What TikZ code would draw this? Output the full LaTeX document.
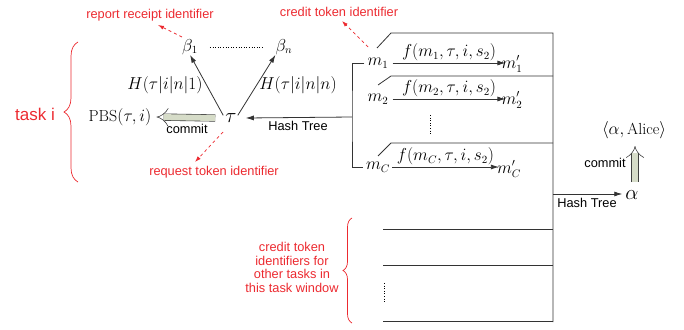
\documentclass[tikz,border=0pt]{standalone}
\usepackage{fontspec}
\setsansfont{Liberation Sans}
\usetikzlibrary{arrows.meta,decorations.pathreplacing}
\definecolor{redc}{RGB}{236,42,48}
\definecolor{commitfill}{RGB}{214,220,200}
\begin{document}
\begin{tikzpicture}[x=1pt,y=-1pt,
 mth/.style={font=\fontsize{16}{19}\selectfont, inner sep=0pt},
 lab/.style={font=\sffamily\fontsize{12.8}{13.6}\selectfont, inner sep=0pt},
 rlab/.style={lab, text=redc},
 ln/.style={draw=black!80, line width=0.8pt},
 arr/.style={ln, -{Latex[length=8pt,width=5pt]}},
 rarr/.style={draw=redc, dashed, line width=0.7pt, -{Latex[length=6pt,width=4pt]}},
 commitarr/.style={draw=black!75, line width=0.6pt, double=commitfill, double distance=6pt, -{Implies}},
 rbrace/.style={draw=redc, line width=0.7pt, decorate}
]
\useasboundingbox (0,0) rectangle (684,329);

% left part
\node[mth] (b1) at (190,47) {$\beta_1$};
\node[mth] (bn) at (284,47) {$\beta_n$};
\node[mth, font=\fontsize{22}{26}\selectfont] (tau) at (231,118) {$\tau$};
\node[mth] (pbs) at (120,117) {$\mathrm{PBS}(\tau,i)$};
\node[mth] (h1) at (165,85) {$H(\tau|i|n|1)$};
\node[mth] (hn) at (298,85) {$H(\tau|i|n|n)$};

\draw[arr] ([xshift=-2pt,yshift=-2pt]tau.north west) -- (b1.south);
\draw[arr] ([xshift=1pt,yshift=-2pt]tau.north east) -- (bn.south west);
\draw[dotted, line width=0.6pt] ([xshift=12pt]b1.east) -- ([xshift=-12pt]bn.west);

\draw[commitarr] ([xshift=-10pt]tau.west) -- ([xshift=5pt]pbs.east);
\node[lab] (c1) at (187,129) {commit};

% hash tree bracket
\coordinate (ht) at (352,117);
\node[mth] (m1) at (378,63) {$m_1$};
\node[mth] (m2) at (378,99) {$m_2$};
\node[mth] (mC) at (378,167) {$m_C$};
\node[mth] (m1p) at (512,64) {$m_1'$};
\node[mth] (m2p) at (512,100) {$m_2'$};
\node[mth] (mCp) at (509,169) {$m_C'$};

\draw[arr] (ht) -- ([xshift=9pt]tau.east);
\node[lab] (ht1) at (298,126) {Hash Tree};
\draw[ln] ([xshift=-3pt]m1.west) -| (ht) |- ([xshift=-3pt]mC.west);

\draw[arr] ([xshift=4pt]m1.east) -- ([xshift=4pt]m1.east -| m1p.west)
  node[mth, midway, above=1.5pt] (f1) {$f(m_1,\tau,i,s_2)$};
\draw[arr] ([xshift=4pt]m2.east) -- ([xshift=4pt]m2.east -| m2p.west)
  node[mth, midway, above=1.5pt] (f2) {$f(m_2,\tau,i,s_2)$};
\draw[arr] ([xshift=2pt]mC.east) -- ([xshift=2pt]mC.east -| mCp.west)
  node[mth, midway, above=1.5pt] (fC) {$f(m_C,\tau,i,s_2)$};
\draw[dotted, line width=0.6pt] (430,115) -- (430,135);

% boxes of the tree
\draw[ln] (377,48) -- (391,33) -- (553,33) -- (553,322);
\draw[ln] (378,85) -- (391,76) -- (553,76);
\draw[ln] (378,156) -- (391,143) -- (553,143);
\draw[ln] (383,229) -- (553,229);
\draw[ln] (383,265) -- (553,265);
\draw[ln] (383,321) -- (553,321);
\draw[dotted, line width=0.6pt] (384,283) -- (384,303);

% right part
\node[mth, font=\fontsize{20}{24}\selectfont] (alpha) at (632,195) {$\alpha$};
\node[mth] (alice) at (634,130) {$\langle\alpha,\mathrm{Alice}\rangle$};
\coordinate (hs) at (553,194);
\draw[arr] (hs) -- ([xshift=-3pt]alpha.west |- hs);
\node[lab] (ht2) at (587,203) {Hash Tree};
\draw[commitarr] (635,182) -- (635,146);
\node[lab] (c2) at (605,163) {commit};

% red annotations
\node[rlab] (rr) at (150,15) {report receipt identifier};
\draw[rarr] (182,37) -- (158,25);
\node[rlab] (rt) at (214,172) {request token identifier};
\draw[rarr] (223,132) -- (195,162);
\node[rlab] (ct) at (339,12) {credit token identifier};
\draw[rarr] (368,47) -- (342,21);

\draw[rbrace, decoration={brace, amplitude=14pt}] (78,182) -- (78,42);
\node[font=\sffamily\fontsize{17}{20}\selectfont, text=redc, inner sep=0pt] (task) at (35,114) {task i};

\draw[rbrace, decoration={brace, amplitude=9pt}] (352,323) -- (352,218);
\node[rlab, align=center] (other) at (292,267.5) {credit token\\identifiers for\\other tasks in\\this task window};
\end{tikzpicture}
\end{document}
